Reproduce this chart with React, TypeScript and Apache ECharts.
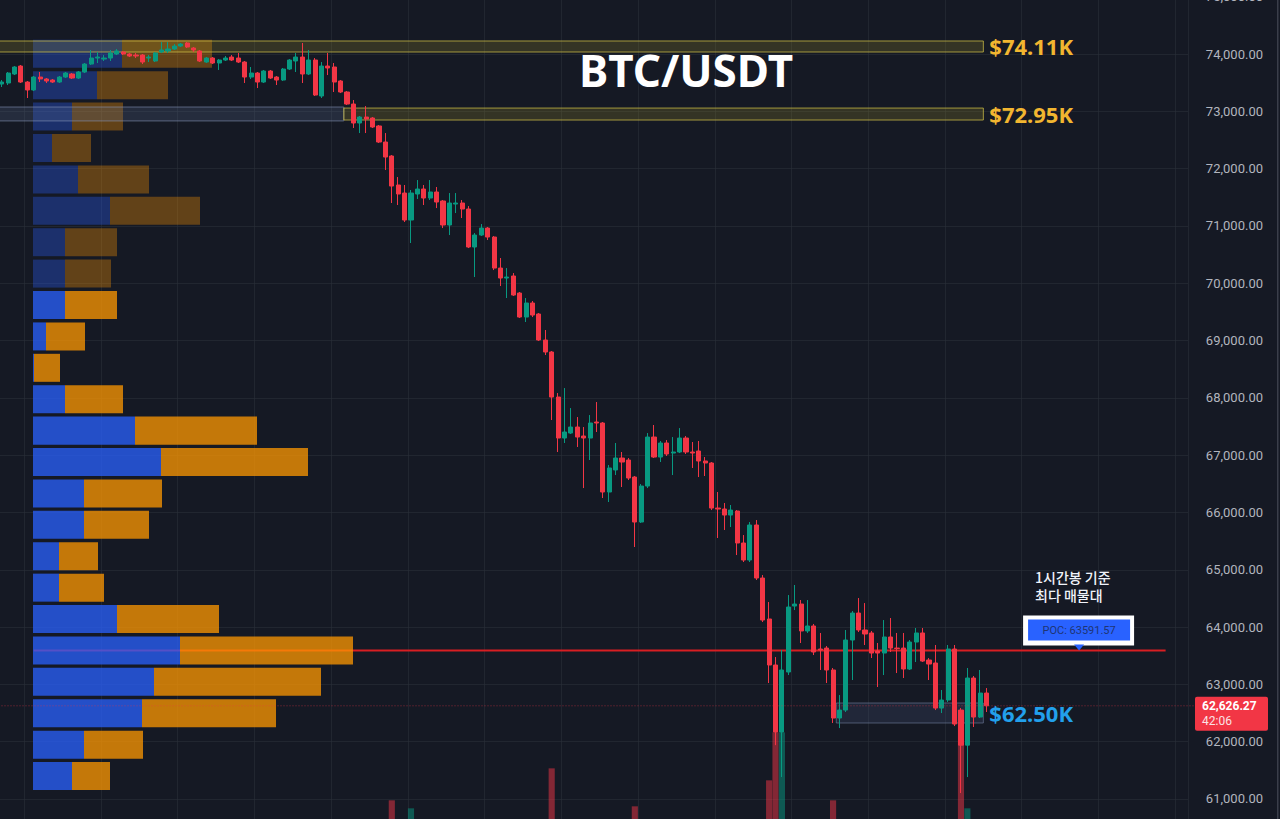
import React, { useEffect, useRef } from "react";
import * as echarts from "echarts";

// ---------- data ----------
const SYMBOL = "BTC/USDT";
const UP = "#089981";
const DOWN = "#f23645";
const BG = "#151924";

// hourly bars, [open, close, low, high]
const ohlc: number[][] = [
  [73476,73511,73424,73546],[73494,73668,73459,73686],[73651,73773,73633,73790],[73790,73511,73494,73808],
  [73511,73372,73232,73529],[73372,73598,73354,73616],[73598,73564,73511,73686],[73564,73529,73494,73581],
  [73546,73511,73494,73564],[73511,73598,73494,73616],[73598,73668,73581,73686],[73651,73581,73564,73668],
  [73581,73686,73564,73703],[73686,73825,73668,73843],[73825,73930,73808,74070],[73930,73947,73843,74035],
  [73912,73930,73878,73982],[73930,74017,73878,74070],[74000,74052,73982,74087],[74035,74000,73982,74052],
  [74000,73965,73947,74017],[73982,73965,73930,74017],[73982,73860,73825,74000],[73930,73947,73860,73982],
  [73878,74017,73860,74035],[74035,74070,74017,74209],[74052,74087,74017,74209],[74087,74139,74070,74174],
  [74139,74174,74122,74192],[74192,74122,74104,74209],[74104,74070,74035,74122],[74052,73878,73860,74070],
  [73860,73930,73843,73947],[73930,73843,73825,73947],[73843,73895,73721,73912],[73895,73930,73878,73965],
  [73947,73895,73878,73982],[73930,73860,73843,74017],[73860,73598,73494,73878],[73598,73668,73564,73773],
  [73668,73511,73406,73686],[73511,73703,73494,73721],[73703,73581,73564,73721],[73598,73546,73459,73616],
  [73546,73738,73529,73756],[73738,73895,73721,73912],[73878,73947,73686,74017],[73947,73651,73494,74192],
  [73651,73895,73633,74070],[73895,73284,73267,73930],[73267,73790,73232,73860],[73790,73756,73633,74017],
  [73773,73511,73337,73843],[73529,73337,73319,73546],[73337,73127,73110,73354],[73127,72796,72709,73197],
  [72796,72900,72621,72918],[72900,72866,72621,73092],[72883,72726,72709,72900],[72744,72464,72447,72761],
  [72464,72202,71976,72621],[72220,71696,71400,72237],[71714,71557,71365,71853],[71574,71103,71068,71714],
  [71103,71574,70702,71627],[71557,71644,71470,71801],[71644,71487,71365,71714],[71487,71592,71452,71801],
  [71592,71417,71312,71679],[71435,71016,70963,71452],[71016,71400,70841,71574],[71382,71400,71225,71574],
  [71400,71295,71138,71452],[71295,70632,70614,71347],[70632,70841,70108,70876],[70841,70963,70824,71033],
  [70963,70806,70754,70981],[70806,70265,70230,70824],[70265,70091,69951,70440],[70091,70108,69742,70265],
  [70126,69794,69777,70178],[69829,69410,69393,69847],[69410,69655,69323,69742],[69655,69445,69410,69690],
  [69463,69009,68992,69480],[69009,68800,68747,69184],[68800,68014,67613,68817],[68014,67299,67055,68084],
  [67299,67404,67212,68171],[67386,67491,67369,67822],[67491,67316,67142,67665],[67334,67299,66426,67491],
  [67299,67561,66915,67700],[67578,67561,67404,67927],[67561,66357,66252,67578],[66357,66776,66182,66828],
  [66741,66950,66653,67212],[66950,66880,66444,67055],[66915,66601,66566,66950],[66618,65833,65397,66636],
  [65833,66461,65816,66496],[66461,67316,66426,67386],[67316,66967,66950,67526],[66967,67212,66880,67247],
  [67212,67020,66985,67264],[67037,67055,66653,67316],[67055,67299,67037,67473],[67299,67055,67020,67334],
  [67055,67037,66776,67229],[67072,66898,66618,67247],[66898,66863,66636,66967],[66863,66077,66042,66880],
  [66077,66060,65554,66357],[66060,65955,65694,66165],[65955,66042,65746,66130],[66025,65467,65257,66042],
  [65467,65170,65135,65606],[65170,65781,65135,65833],[65781,64856,64821,65868],[64856,64123,64088,64908],
  [64141,63338,63024,64437],[63338,62168,61940,63477],[62168,63251,61383,63600],[63216,64350,63163,64559],
  [64367,64402,64297,64734],[64402,63932,63722,64472],[63932,64019,63897,64472],[64019,63565,63512,64054],
  [63617,63600,63251,63897],[63634,63251,63024,63669],[63251,62413,62326,63286],[62413,62552,62238,62814],
  [62552,63774,62518,63949],[63774,64245,63076,64280],[64245,63949,63914,64507],[63949,63879,63687,64419],
  [63897,63547,63460,63932],[63582,63547,62954,63722],[63547,63827,63163,64123],[63827,63634,63565,64158],
  [63634,63625,63198,63897],[63634,63268,63111,63897],[63268,63739,63251,63774],[63739,63897,63390,63984],
  [63897,63407,63390,63984],[63425,63355,63076,63460],[63373,62587,62552,63687],[62587,62727,62500,62902],
  [62727,63617,62692,63687],[63617,62308,62273,63687],[62552,61940,61104,62587],[61940,63111,61383,63286],
  [63111,62430,62256,63146],[62430,62849,62413,63251],[62849,62626.27,62518,62936],
];

// hourly volume (BTC)
const volumes: number[] = [
  420,510,380,620,700,540,360,300,280,330,310,290,350,480,610,390,300,420,360,280,
  260,300,450,320,470,520,410,380,350,400,330,560,380,400,450,320,300,430,820,520,
  700,640,500,480,620,700,560,980,760,1150,1240,610,880,720,760,1020,830,900,690,950,
  1180,2240,1320,1250,1920,860,740,680,800,1100,1280,700,760,1390,1200,820,700,1240,1050,980,
  1100,1260,1050,880,1300,1180,3520,1450,1380,920,1010,1220,1150,880,1420,1260,930,980,1050,2000,
  1400,1350,1100,840,760,880,900,820,650,760,690,1280,1150,820,700,1240,1080,1300,1460,1400,
  3040,4960,4960,1450,1180,1120,980,1060,900,1150,2240,1280,1420,1350,1060,900,960,880,1040,850,
  760,950,980,870,1000,820,1300,1120,1400,1380,5840,1920,1350,1100,620,
];

const totalSlots = 186; // bars + empty space to the right
const categories = Array.from({ length: totalSlots }, (_, i) => `H${i}`);

// price axis
const priceMin = 60000;
const priceMax = 75000;
const priceStep = 1000;

// volume profile (top bin first)
const profileBinTop = 74278;
const profileBinSize = 548;
const profileBuy: number[] = [89,64,39,19,45,77,32,32,32,13,1,32,102,128,51,51,26,26,84,147,121,109,51,39];
const profileSell: number[] = [90,71,51,39,71,90,52,46,52,39,26,58,122,147,78,65,39,45,102,173,167,134,59,38];
const valueAreaHigh = 69890;

// key levels
const pocPrice = 63591.57;
const lastPrice = 62626.27;
const countdown = "42:06";
const zones = [
  { start: 0, end: 153, top: 74227, bottom: 74035, label: "$74.11K", kind: "gold" },
  { start: 0, end: 53, top: 73075, bottom: 72832, label: "", kind: "grey" },
  { start: 54, end: 153, top: 73057, bottom: 72848, label: "$72.95K", kind: "gold" },
  { start: 131, end: 153, top: 62675, bottom: 62326, label: "$62.50K", kind: "blue" },
];
const annotationLines = ["1시간봉 기준", "최다 매물대"];

// layout choices
const pocLineStart = 5;
const pocLineEnd = 182;
const pocLabelIndex = 168;

const zoneStyles: any = {
  gold: { fill: "rgba(165,150,40,0.22)", stroke: "rgba(205,190,70,0.75)", text: "#f2b630" },
  grey: { fill: "rgba(95,115,150,0.22)", stroke: "rgba(140,155,190,0.55)", text: "#ffffff" },
  blue: { fill: "rgba(70,85,120,0.25)", stroke: "rgba(120,135,170,0.55)", text: "#22a0ec" },
};

const fmt = (v: number) =>
  v.toLocaleString("en-US", { minimumFractionDigits: 2, maximumFractionDigits: 2 });

function buildOption() {
  const profileTotals = profileBuy.map((b, i) => b + profileSell[i]);
  const profileMax = Math.max(...profileTotals);
  const profileData = profileBuy.map((b, k) => [
    b,
    profileSell[k],
    profileBinTop - profileBinSize * (k + 1),
    profileBinTop - profileBinSize * k,
  ]);
  const volData = volumes.map((v, i) => ({
    value: v,
    itemStyle: { color: ohlc[i][1] < ohlc[i][0] ? "rgba(242,54,69,0.5)" : "rgba(8,153,129,0.5)" },
  }));
  const gridSpan = { top: -3.3, bottom: -37.3, containLabel: false, outerBoundsMode: "none" };

  return {
    animation: false,
    backgroundColor: BG,
    grid: [
      { left: -1.5, right: 92, ...gridSpan },
      { left: 33, width: 320, ...gridSpan },
    ],
    xAxis: [
      {
        type: "category",
        gridIndex: 0,
        data: categories,
        boundaryGap: true,
        axisLine: { show: false },
        axisTick: { show: false },
        axisLabel: { show: false },
        splitLine: {
          show: true,
          interval: (i: number) => i % 12 === 4,
          lineStyle: { color: "rgba(42,46,57,0.6)", width: 1 },
        },
      },
      { type: "value", gridIndex: 1, min: 0, max: profileMax, show: false },
    ],
    yAxis: [
      {
        type: "value",
        gridIndex: 0,
        position: "right",
        min: priceMin,
        max: priceMax,
        interval: priceStep,
        axisLine: { show: false },
        axisTick: { show: false },
        axisLabel: {
          color: "#b2b5be",
          fontSize: 13,
          fontFamily: "Roboto",
          margin: 75,
          align: "right",
          formatter: (v: number) => (v <= priceMin ? "" : fmt(v)),
        },
        splitLine: { lineStyle: { color: "rgba(42,46,57,0.6)", width: 1 } },
      },
      { type: "value", gridIndex: 0, min: 0, max: 34400, show: false },
      { type: "value", gridIndex: 1, min: priceMin, max: priceMax, show: false },
    ],
    series: [
      {
        type: "bar",
        name: "Volume",
        xAxisIndex: 0,
        yAxisIndex: 1,
        data: volData,
        barWidth: "96%",
        z: 1,
        silent: true,
      },
      {
        type: "custom",
        name: "POC line",
        xAxisIndex: 0,
        yAxisIndex: 0,
        z: 2,
        silent: true,
        clip: false,
        data: [[pocLineStart, pocLineEnd, pocPrice]],
        encode: { x: [0, 1], y: 2 },
        renderItem: (params: any, api: any) => {
          const a = api.coord([api.value(0), api.value(2)]);
          const b = api.coord([api.value(1), api.value(2)]);
          return {
            type: "line",
            shape: { x1: a[0], y1: a[1], x2: b[0], y2: b[1] },
            style: { stroke: "#d81e22", lineWidth: 2 },
          };
        },
      },
      {
        type: "custom",
        name: "Volume profile",
        xAxisIndex: 1,
        yAxisIndex: 2,
        z: 3,
        silent: true,
        clip: false,
        data: profileData,
        encode: { x: [0, 1], y: [2, 3] },
        renderItem: (params: any, api: any) => {
          const buy = api.value(0);
          const sell = api.value(1);
          const lo = api.value(2);
          const hi = api.value(3);
          const a = api.coord([0, hi]);
          const b = api.coord([buy, lo]);
          const c = api.coord([buy + sell, lo]);
          const gap = 1.7;
          const y0 = a[1] + gap;
          const h = b[1] - a[1] - 2 * gap;
          const op = lo >= valueAreaHigh ? 0.33 : 0.75;
          return {
            type: "group",
            children: [
              { type: "rect", shape: { x: a[0], y: y0, width: b[0] - a[0], height: h }, style: { fill: "#2962ff", opacity: op } },
              { type: "rect", shape: { x: b[0], y: y0, width: c[0] - b[0], height: h }, style: { fill: "#ff9800", opacity: op } },
            ],
          };
        },
      },
      {
        type: "custom",
        name: "Zones",
        xAxisIndex: 0,
        yAxisIndex: 0,
        z: 4,
        silent: true,
        clip: false,
        data: zones.map((z) => [z.start, z.end, z.top, z.bottom]),
        encode: { x: [0, 1], y: [2, 3] },
        renderItem: (params: any, api: any) => {
          const zone = zones[params.dataIndex];
          const st = zoneStyles[zone.kind];
          const bw = api.size([1, 0])[0];
          const p0 = api.coord([api.value(0), api.value(2)]);
          const p1 = api.coord([api.value(1), api.value(3)]);
          const x0 = p0[0] - bw / 2;
          const x1 = p1[0] + bw / 2;
          const children: any[] = [
            {
              type: "rect",
              shape: { x: x0, y: p0[1], width: x1 - x0, height: p1[1] - p0[1] },
              style: { fill: st.fill, stroke: st.stroke, lineWidth: 1 },
            },
          ];
          if (zone.label) {
            children.push({
              type: "text",
              x: x1 + 6,
              y: (p0[1] + p1[1]) / 2,
              style: {
                text: zone.label,
                fill: st.text,
                font: 'bold 22px "Noto Sans"',
                textAlign: "left",
                textVerticalAlign: "middle",
              },
            });
          }
          return { type: "group", children };
        },
      },
      {
        type: "candlestick",
        name: SYMBOL,
        xAxisIndex: 0,
        yAxisIndex: 0,
        z: 5,
        barWidth: "72%",
        data: ohlc,
        itemStyle: {
          color: UP,
          color0: DOWN,
          borderColor: UP,
          borderColor0: DOWN,
          borderWidth: 1,
        },
      },
      {
        type: "custom",
        name: "POC label",
        xAxisIndex: 0,
        yAxisIndex: 0,
        z: 6,
        silent: true,
        clip: false,
        data: [[pocLabelIndex, pocPrice]],
        encode: { x: 0, y: 1 },
        renderItem: (params: any, api: any) => {
          const p = api.coord([api.value(0), api.value(1)]);
          const cx = p[0] + 3;
          const cy = p[1];
          return {
            type: "group",
            children: [
              { type: "rect", shape: { x: cx - 56, y: cy - 35, width: 111, height: 30 }, style: { fill: "#ffffff" } },
              { type: "rect", shape: { x: cx - 51, y: cy - 31, width: 102, height: 21 }, style: { fill: "#2962ff" } },
              {
                type: "polygon",
                shape: { points: [[cx - 5, cy - 6], [cx + 5, cy - 6], [cx, cy]] },
                style: { fill: "#2962ff" },
              },
              {
                type: "text",
                x: cx,
                y: cy - 20,
                style: {
                  text: `POC: ${pocPrice.toFixed(2)}`,
                  fill: "#1f3574",
                  font: '11px Roboto',
                  textAlign: "center",
                  textVerticalAlign: "middle",
                },
              },
              ...annotationLines.map((t, i) => ({
                type: "text",
                x: cx - 44,
                y: cy - 73 + i * 18,
                style: {
                  text: t,
                  fill: "#f0f3fa",
                  font: '500 14px "Noto Sans CJK KR"',
                  textAlign: "left",
                  textVerticalAlign: "middle",
                },
              })),
            ],
          };
        },
      },
      {
        type: "custom",
        name: "Last price",
        xAxisIndex: 0,
        yAxisIndex: 0,
        z: 6,
        silent: true,
        clip: false,
        data: [[ohlc.length - 1, lastPrice]],
        encode: { x: 0, y: 1 },
        renderItem: (params: any, api: any) => {
          const p = api.coord([api.value(0), api.value(1)]);
          const cs = params.coordSys;
          const right = cs.x + cs.width;
          return {
            type: "group",
            children: [
              {
                type: "line",
                shape: { x1: cs.x, y1: p[1], x2: right + 7, y2: p[1] },
                style: { stroke: "rgba(242,54,69,0.55)", lineWidth: 1, lineDash: [1, 2] },
              },
              { type: "rect", shape: { x: right + 7, y: p[1] - 9, width: 73, height: 34, r: 2 }, style: { fill: DOWN } },
              {
                type: "text",
                x: right + 14,
                y: p[1],
                style: { text: fmt(lastPrice), fill: "#ffffff", font: 'bold 12px Roboto', textAlign: "left", textVerticalAlign: "middle" },
              },
              {
                type: "text",
                x: right + 14,
                y: p[1] + 15,
                style: { text: countdown, fill: "#fbe3e5", font: '12px Roboto', textAlign: "left", textVerticalAlign: "middle" },
              },
            ],
          };
        },
      },
    ],
    graphic: [
      {
        type: "text",
        x: 686,
        y: 70,
        style: {
          text: SYMBOL,
          fill: "#ffffff",
          font: 'bold 44px "Noto Sans"',
          textAlign: "center",
          textVerticalAlign: "middle",
        },
        z: 10,
      },
      {
        type: "rect",
        shape: { x: 1277, y: 0, width: 1.5, height: 819 },
        style: { fill: "#3a3e4a" },
        z: 10,
      },
    ],
  };
}

export default function App() {
  const ref = useRef<HTMLDivElement>(null);
  useEffect(() => {
    if (!ref.current) return;
    const chart = echarts.init(ref.current, null, { renderer: "svg" });
    chart.setOption(buildOption() as any);
    return () => chart.dispose();
  }, []);
  return (
    <div
      ref={ref}
      style={{ position: "fixed", left: 0, top: 0, width: 1280, height: 819, background: BG }}
    />
  );
}
